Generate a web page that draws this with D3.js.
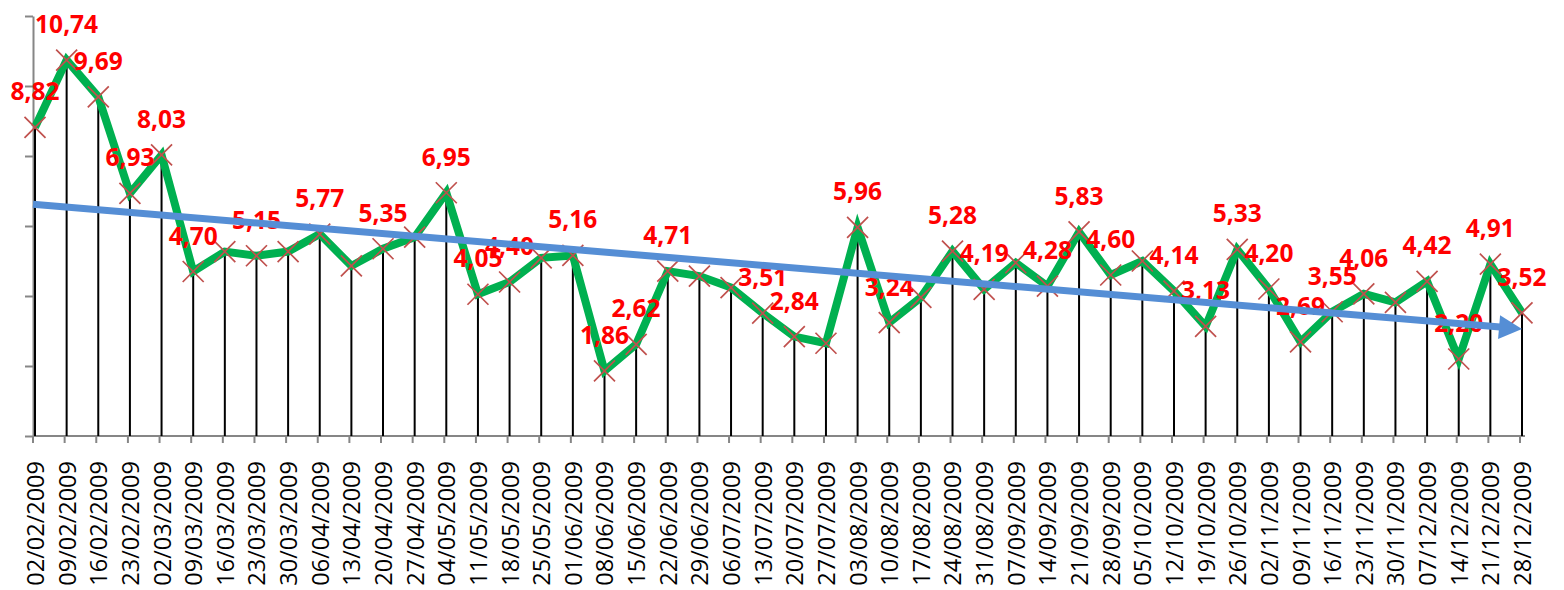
<!DOCTYPE html>
<html>
<head>
<meta charset="utf-8">
<script src="https://cdn.jsdelivr.net/npm/d3@7"></script>
<style>
  html, body { margin: 0; padding: 0; background: #fff; }
  svg { display: block; }
</style>
</head>
<body>
<svg id="chart" width="1564" height="590"></svg>
<script>
// weekly dates (categories)
var dates = ["02/02/2009","09/02/2009","16/02/2009","23/02/2009","02/03/2009","09/03/2009",
  "16/03/2009","23/03/2009","30/03/2009","06/04/2009","13/04/2009","20/04/2009","27/04/2009",
  "04/05/2009","11/05/2009","18/05/2009","25/05/2009","01/06/2009","08/06/2009","15/06/2009",
  "22/06/2009","29/06/2009","06/07/2009","13/07/2009","20/07/2009","27/07/2009","03/08/2009",
  "10/08/2009","17/08/2009","24/08/2009","31/08/2009","07/09/2009","14/09/2009","21/09/2009",
  "28/09/2009","05/10/2009","12/10/2009","19/10/2009","26/10/2009","02/11/2009","09/11/2009",
  "16/11/2009","23/11/2009","30/11/2009","07/12/2009","14/12/2009","21/12/2009","28/12/2009"];

// series values
var values = [8.82,10.74,9.69,6.93,8.03,4.70,5.27,5.15,5.27,5.77,4.86,5.35,5.68,
  6.95,4.05,4.40,5.09,5.16,1.86,2.62,4.71,4.57,4.24,3.51,2.84,2.65,5.96,
  3.24,3.96,5.28,4.19,4.95,4.28,5.83,4.60,5.00,4.14,3.13,5.33,4.20,2.69,
  3.55,4.06,3.82,4.42,2.20,4.91,3.52];

// which points carry a data label
var hasLabel = [1,1,1,1,1,1,0,1,0,1,0,1,0,
  1,1,1,0,1,1,1,1,0,0,1,1,0,1,
  1,0,1,1,0,1,1,1,0,1,1,1,1,1,
  1,1,0,1,1,1,1];

// y axis ticks (no labels shown)
var yTicks = [0, 2, 4, 6, 8, 10, 12];

var svg = d3.select("#chart");
var axisColor = "#868686";

var x = d3.scalePoint().domain(dates).range([35, 1522]);
var y = d3.scaleLinear().domain([0, 12]).range([436, 16]);
var step = x.step();
var axisX = x(dates[0]) - 2;

// y axis
var yAxis = svg.append("g")
    .attr("transform", "translate(" + axisX + ",0)")
    .call(d3.axisLeft(y).tickValues(yTicks).tickSize(8).tickSizeOuter(0).tickFormat(""));
yAxis.select(".domain").attr("stroke", axisColor).attr("stroke-width", 2);
yAxis.selectAll(".tick line").attr("stroke", axisColor).attr("stroke-width", 2);

// x axis
var xAxis = svg.append("g")
    .attr("transform", "translate(0," + y(0) + ")")
    .call(d3.axisBottom(x).tickSize(7).tickSizeOuter(0));
xAxis.select(".domain").remove();
xAxis.append("line")
    .attr("x1", axisX).attr("x2", x(dates[dates.length - 1]) + 3)
    .attr("stroke", axisColor).attr("stroke-width", 2);
xAxis.selectAll(".tick line")
    .attr("stroke", axisColor).attr("stroke-width", 2)
    .attr("transform", "translate(-2.5,0)");
xAxis.selectAll(".tick text")
    .attr("transform", "rotate(-90)")
    .attr("x", -25).attr("y", 0).attr("dy", "0.36em")
    .style("text-anchor", "end")
    .attr("fill", "#000")
    .attr("font-family", "'Open Sans', sans-serif")
    .attr("font-size", 23.5);

var pts = dates.map(function(d, i) { return {date: d, value: values[i], label: hasLabel[i]}; });

// drop lines
svg.append("g").selectAll("line")
    .data(pts).enter().append("line")
    .attr("x1", function(d) { return x(d.date); })
    .attr("x2", function(d) { return x(d.date); })
    .attr("y1", function(d) { return y(d.value); })
    .attr("y2", y(0))
    .attr("stroke", "#000").attr("stroke-width", 2);

// series line
var line = d3.line()
    .x(function(d) { return x(d.date); })
    .y(function(d) { return y(d.value); });
svg.append("path")
    .datum(pts)
    .attr("d", line)
    .attr("fill", "none")
    .attr("stroke", "#00b050")
    .attr("stroke-width", 8)
    .attr("stroke-linejoin", "miter");

// x markers
var m = 10.5;
svg.append("g").selectAll("path")
    .data(pts).enter().append("path")
    .attr("transform", function(d) { return "translate(" + x(d.date) + "," + y(d.value) + ")"; })
    .attr("d", "M" + (-m) + "," + (-m) + "L" + m + "," + m + "M" + (-m) + "," + m + "L" + m + "," + (-m))
    .attr("stroke", "#c0504d")
    .attr("stroke-width", 1.7)
    .attr("fill", "none");

// data labels
svg.append("g").selectAll("text")
    .data(pts.filter(function(d) { return d.label; })).enter().append("text")
    .attr("x", function(d) { return x(d.date); })
    .attr("y", function(d) { return y(d.value) - 27; })
    .attr("text-anchor", "middle")
    .attr("font-family", "'Open Sans', sans-serif")
    .attr("font-weight", "bold")
    .attr("font-size", 24.5)
    .attr("fill", "#ff0000")
    .text(function(d) { return d.value.toFixed(2).replace(".", ","); });

// linear trend (least squares over the series) drawn as an arrow
var n = values.length;
var mi = (n - 1) / 2;
var my = d3.mean(values);
var sxy = d3.sum(values, function(v, i) { return (i - mi) * (v - my); });
var sxx = d3.sum(values, function(v, i) { return (i - mi) * (i - mi); });
var slope = sxy / sxx;
var icpt = my - slope * mi;
function trendAt(px) {
  var idx = (px - x(dates[0])) / step;
  return y(icpt + slope * idx);
}
var tipX = x(dates[n - 1]);
var startX = axisX;
var tipY = trendAt(tipX);
var sY = trendAt(startX);
var ang = Math.atan2(tipY - sY, tipX - startX);
var headLen = 23, headW = 12;
var bx = tipX - headLen * Math.cos(ang), by = tipY - headLen * Math.sin(ang);
svg.append("line")
    .attr("x1", startX).attr("y1", sY)
    .attr("x2", bx + 1).attr("y2", by)
    .attr("stroke", "#558ed5").attr("stroke-width", 7);
svg.append("path")
    .attr("d", "M" + tipX + "," + tipY +
      "L" + (bx - headW * Math.sin(ang)) + "," + (by + headW * Math.cos(ang)) +
      "L" + (bx + headW * Math.sin(ang)) + "," + (by - headW * Math.cos(ang)) + "Z")
    .attr("fill", "#558ed5");
</script>
</body>
</html>
